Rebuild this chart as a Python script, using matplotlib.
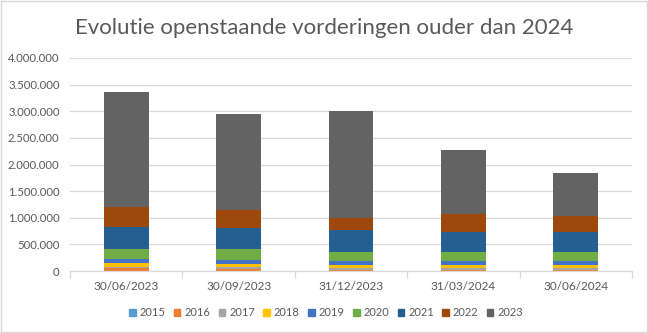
import matplotlib.pyplot as plt
import numpy as np
from matplotlib.patches import Rectangle
from matplotlib.ticker import FuncFormatter

# data
dates = ["30/06/2023", "30/09/2023", "31/12/2023", "31/03/2024", "30/06/2024"]
years = ["2015", "2016", "2017", "2018", "2019", "2020", "2021", "2022", "2023"]

y2015 = [5000, 5000, 4000, 4000, 4000]
y2016 = [43000, 40000, 15000, 15000, 15000]
y2017 = [31000, 25000, 35000, 35000, 35000]
y2018 = [62000, 62000, 50000, 50000, 50000]
y2019 = [87000, 75000, 75000, 75000, 75000]
y2020 = [187000, 206000, 187000, 187000, 169000]
y2021 = [412000, 400000, 400000, 375000, 381000]
y2022 = [375000, 337000, 237000, 325000, 300000]
y2023 = [2155000, 1800000, 2005000, 1205000, 810000]

series = [y2015, y2016, y2017, y2018, y2019, y2020, y2021, y2022, y2023]
colors = ["#5B9BD5", "#ED7D31", "#A5A5A5", "#FFC000", "#4472C4",
          "#70AD47", "#255E91", "#9E480E", "#636363"]

txt = "#595959"
plt.rcParams['font.family'] = ['Lato', 'DejaVu Sans']

fig = plt.figure(figsize=(6.48, 3.33), dpi=100)
ax = fig.add_axes([70/648, 1 - 271/333, 562/648, 213/333])

x = np.arange(len(dates))
bottom = np.zeros(len(dates))
for vals, col, lab in zip(series, colors, years):
    ax.bar(x, vals, 0.4, bottom=bottom, color=col, label=lab, zorder=2)
    bottom += np.array(vals)

ax.set_xlim(-0.5, len(dates) - 0.5)
ax.set_ylim(0, 4000000)
ax.set_yticks(np.arange(0, 4000001, 500000))
ax.yaxis.set_major_formatter(FuncFormatter(lambda v, p: f"{int(v):,}".replace(",", ".")))
ax.grid(axis="y", color="#D9D9D9", linewidth=0.9, zorder=0)
ax.set_xticks(x)
ax.set_xticklabels(dates)
ax.set_xticks(np.arange(-0.5, len(dates), 1), minor=True)
ax.tick_params(axis="x", which="major", length=0, pad=7, labelsize=8.5, labelcolor=txt)
ax.tick_params(axis="x", which="minor", length=5, color="#D9D9D9", width=0.9)
ax.tick_params(axis="y", length=0, pad=7.5, labelsize=8.2, labelcolor=txt)
for s in ["top", "right", "left"]:
    ax.spines[s].set_visible(False)
ax.spines["bottom"].set_color("#D9D9D9")
ax.spines["bottom"].set_linewidth(0.9)

fig.text(0.5, 1 - 28/333, "Evolutie openstaande vorderingen ouder dan 2024",
         ha="center", va="center", fontsize=16, color=txt)

handles = [Rectangle((0, 0), 1, 1, color=c) for c in colors]
fig.legend(handles, years, loc="center", bbox_to_anchor=(0.503, 1 - 313/333), ncol=9,
           frameon=False, fontsize=8, labelcolor=txt, handlelength=0.6, handleheight=0.6,
           handletextpad=0.35, columnspacing=0.75)

fig.patches.append(Rectangle((0.001, 0.002), 0.997, 0.995, transform=fig.transFigure,
                             fill=False, edgecolor="#D9D9D9", linewidth=1))

fig.savefig("out.png", dpi=100)
